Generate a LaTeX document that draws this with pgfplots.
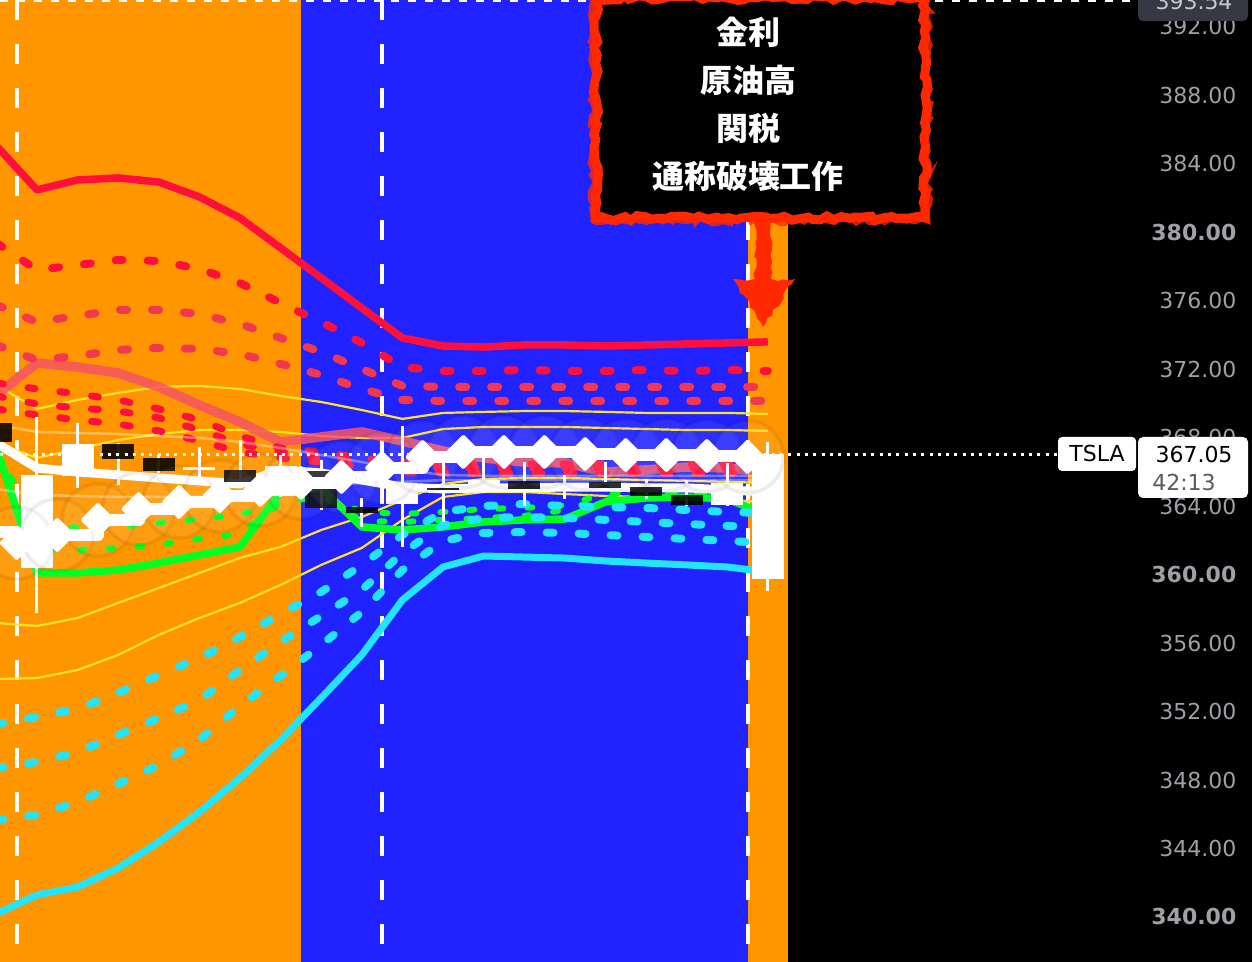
\documentclass[border=0pt]{standalone}
\usepackage{fontspec}
\setmainfont{DejaVu Sans}
\newfontfamily\cjk{Noto Sans CJK JP}
\usepackage{pgfplots}
\pgfplotsset{compat=1.18}
\usepackage{pgfplotstable}
\usetikzlibrary{decorations.pathmorphing}

\definecolor{bgorange}{RGB}{255,150,0}
\definecolor{bgblue}{RGB}{32,34,255}
\definecolor{rred}{RGB}{255,15,60}
\definecolor{rpink}{RGB}{242,56,80}
\definecolor{salmon}{RGB}{245,85,100}
\definecolor{ccyan}{RGB}{34,228,252}
\definecolor{ggreen}{RGB}{0,255,34}
\definecolor{yel}{RGB}{255,225,40}
\definecolor{labgray}{RGB}{160,160,166}
\definecolor{annored}{RGB}{255,40,0}
\definecolor{boxgray}{RGB}{54,57,68}
\definecolor{boxtext}{RGB}{200,200,205}
\definecolor{timegray}{RGB}{90,90,90}

\pgfplotstableread{
k R0 R1 R2 R3 R4 R5 R6 S Y1 Y2 Y3 Y4 G0 G1 G2 C0 C1 C2 C3 W2 F1 F2
0 385.05 379.38 375.76 373.42 371.20 370.44 369.68 370.50 371.08 367.69 357.18 353.90 367.46 367.17 366.99 340.18 351.28 348.70 345.67 367.69 368.75 365.00
1 382.48 377.80 374.76 372.54 370.85 369.97 369.33 372.37 369.68 366.82 357.00 353.96 360.10 363.08 361.50 341.29 351.69 349.06 345.96 366.23 368.34 364.66
2 383.06 378.09 375.12 372.78 370.56 369.74 369.04 372.13 370.21 367.34 357.47 354.43 360.10 362.73 361.44 341.75 352.15 349.64 346.72 366.00 368.28 364.60
3 383.18 378.39 375.47 373.13 370.21 369.56 368.80 371.78 370.62 367.87 358.35 355.31 360.27 362.79 361.56 342.86 353.09 350.63 347.77 365.83 368.22 364.54
4 382.94 378.33 375.47 373.25 369.68 369.16 368.40 370.97 370.97 368.22 359.22 356.48 360.68 363.02 361.74 344.38 354.14 351.63 348.88 365.65 368.10 364.54
5 382.07 377.86 375.23 373.19 369.04 368.45 367.81 369.91 371.03 368.45 360.10 357.47 361.15 363.25 362.09 346.13 355.13 352.68 350.34 365.48 367.99 364.54
6 380.84 377.04 374.65 372.89 368.10 367.64 367.17 368.92 370.85 368.45 360.98 358.35 361.62 363.49 362.38 348.12 356.36 354.43 352.33 365.30 367.75 364.54
7 379.09 375.87 373.83 372.31 367.40 367.17 366.82 367.75 370.44 368.34 361.62 359.40 364.83 364.36 364.19 350.34 357.70 356.07 354.08 366.12 367.40 364.95
8 377.34 374.76 373.01 371.67 367.17 366.88 366.58 368.05 370.09 368.10 362.61 360.57 365.07 364.77 364.60 352.80 358.99 357.59 355.89 365.94 366.99 365.24
9 375.58 373.54 372.02 370.85 366.82 366.53 366.29 368.34 369.62 367.99 363.37 361.56 362.79 363.66 363.14 355.31 360.57 359.11 357.82 365.53 366.58 365.36
10 373.83 372.13 371.03 370.21 366.58 366.29 366.00 367.81 369.10 367.99 364.36 363.20 362.61 363.55 363.08 358.52 362.32 361.27 360.27 365.12 366.12 365.42
11 373.36 371.90 370.97 370.15 366.47 366.23 365.94 367.23 369.45 368.51 365.30 364.54 362.79 363.66 363.20 360.45 363.66 362.90 361.97 365.01 365.83 365.53
12 373.30 371.90 370.97 370.15 366.47 366.23 365.94 366.82 369.51 368.63 365.59 364.83 363.08 363.84 363.31 361.09 364.01 363.31 362.44 365.07 365.77 365.53
13 373.42 371.96 370.97 370.15 366.47 366.23 365.94 366.58 369.56 368.63 365.65 364.83 363.20 363.90 363.43 361.03 364.13 363.37 362.49 365.07 365.77 365.53
14 373.42 371.90 370.97 370.15 366.47 366.23 365.94 366.53 369.56 368.63 365.65 364.71 363.25 364.07 363.78 360.97 364.01 363.31 362.44 365.12 365.77 365.53
15 373.36 371.90 370.97 370.15 366.47 366.23 365.94 366.00 369.51 368.57 365.59 364.60 364.25 364.71 364.48 360.80 363.95 363.20 362.32 365.12 365.77 365.53
16 373.42 371.96 370.97 370.15 366.47 366.23 365.94 366.12 369.45 368.51 365.53 364.54 364.48 364.89 364.66 360.68 363.90 363.08 362.20 365.07 365.77 365.53
17 373.48 371.90 370.97 370.15 366.47 366.23 365.94 366.29 369.45 368.45 365.48 364.48 364.54 364.89 364.66 360.57 363.78 362.96 362.09 365.07 365.77 365.53
18 373.54 371.96 370.97 370.15 366.47 366.23 365.94 366.23 369.45 368.45 365.42 364.36 364.42 364.83 364.54 360.45 363.66 362.85 361.97 364.95 365.77 365.53
19 373.60 371.90 370.97 370.15 366.47 366.23 365.94 366.00 369.39 368.40 365.36 364.25 363.49 364.07 363.78 360.16 363.60 362.79 361.85 364.83 365.77 365.53
}\lines

% up candles: k open high low close
\pgfplotstableread{
k o h l c
1 360.39 369.21 357.76 365.83
2 365.77 368.86 365.07 367.64
5 366.10 367.46 365.71 366.27
7 364.83 366.99 364.54 366.35
10 364.13 368.69 361.62 365.24
12 364.95 367.11 364.77 365.53
14 364.95 365.83 364.42 365.36
18 364.07 366.53 364.01 365.36
19 359.75 367.75 359.05 367.05
}\upc

% down candles
\pgfplotstableread{
k o h l c
0 368.86 368.95 367.60 367.75
3 367.64 367.69 365.24 366.76
4 366.82 366.99 365.94 366.06
6 366.12 367.87 365.18 365.42
8 366.06 366.70 363.78 363.90
9 363.95 364.48 362.79 363.60
11 365.07 366.58 363.08 364.95
13 365.48 366.58 364.01 365.01
15 365.42 366.58 364.95 365.07
16 365.12 365.59 364.42 364.60
17 364.66 365.53 364.01 364.07
}\dnc

\pgfplotstableread{
k v
-0.5 362.49
0.5 361.85
1.5 362.32
2.5 363.20
3.5 363.84
4.5 364.25
5.5 364.60
6.5 364.95
7.5 365.36
8.5 365.71
9.5 366.23
10.5 366.88
11.5 367.17
12.5 367.17
13.5 367.17
14.5 367.05
15.5 366.99
16.5 366.99
17.5 366.94
18.5 366.88
}\diam

\begin{document}
\begin{tikzpicture}
\useasboundingbox (0,0) rectangle (125.2mm,96.2mm);
\clip (0,0) rectangle (125.2mm,96.2mm);
\begin{axis}[
  at={(0,0)}, anchor=south west,
  scale only axis, width=125.2mm, height=96.2mm,
  xmin=0.0887, xmax=30.926, ymin=337.37, ymax=393.578,
  axis background/.style={fill=black},
  axis line style={draw=none},
  xtick=\empty,
  ytick={340,344,348,352,356,360,364,368,372,376,380,384,388,392},
  yticklabels={\textbf{340.00},344.00,348.00,352.00,356.00,\textbf{360.00},364.00,368.00,372.00,376.00,\textbf{380.00},384.00,388.00,392.00},
  yticklabel pos=right,
  major tick length=0pt,
  tick style={draw=none},
  yticklabel style={anchor=east, inner sep=0pt, xshift=-1.5mm, font=\fontsize{6.26pt}{7pt}\selectfont, text=labgray},
  every axis plot/.append style={line join=round},
  rdash/.style={line width=0.8mm, line cap=round, dash pattern=on 0.7mm off 2.5mm},
  gdash/.style={line width=0.6mm, line cap=round, dash pattern=on 0.5mm off 2.4mm},
  candle/.style={only marks, mark=*, mark size=0pt, mark options={draw=none, fill=none},
    error bars/.cd, y dir=plus, y explicit, error mark=none},
]
% background sessions
\addplot[draw=none, fill=bgorange] coordinates {(0,330) (7.5,330) (7.5,400) (0,400)} --cycle;
\addplot[draw=none, fill=bgblue] coordinates {(7.5,330) (18.5,330) (18.5,400) (7.5,400)} --cycle;
\addplot[draw=none, fill=bgorange] coordinates {(18.5,330) (19.5,330) (19.5,400) (18.5,400)} --cycle;
% dashed verticals
\addplot[white, line width=0.4mm, dash pattern=on 2mm off 2.4mm] coordinates {(0.5,393.578) (0.5,337.37)};
\addplot[white, line width=0.4mm, dash pattern=on 2mm off 2.4mm] coordinates {(9.5,393.578) (9.5,337.37)};
\addplot[white, line width=0.4mm, dash pattern=on 2mm off 2.4mm] coordinates {(18.5,393.578) (18.5,337.37)};
% top price line
\addplot[white, line width=0.25mm, dash pattern=on 0.8mm off 0.9mm] coordinates {(0.0887,393.54) (28.2,393.54)};
% yellow thin
\addplot[yel, line width=0.22mm] table[x=k,y=Y1] {\lines};
\addplot[yel, line width=0.22mm] table[x=k,y=Y2] {\lines};
\addplot[yel, line width=0.22mm] table[x=k,y=Y3] {\lines};
\addplot[yel, line width=0.22mm] table[x=k,y=Y4] {\lines};
% salmon
\addplot[salmon, opacity=0.85, line width=0.95mm] table[x=k,y=S] {\lines};
% red
\addplot[rred, line width=0.75mm] table[x=k,y=R0] {\lines};
\addplot[rred, rdash] table[x=k,y=R1] {\lines};
\addplot[rpink, rdash] table[x=k,y=R2] {\lines};
\addplot[rpink, rdash] table[x=k,y=R3] {\lines};
\addplot[rred, rdash, line width=0.7mm] table[x=k,y=R4] {\lines};
\addplot[rred, rdash, line width=0.7mm] table[x=k,y=R5] {\lines};
\addplot[rred, rdash, line width=0.7mm] table[x=k,y=R6] {\lines};
% green
\addplot[ggreen, line width=0.75mm] table[x=k,y=G0] {\lines};
\addplot[ggreen, gdash] table[x=k,y=G1] {\lines};
\addplot[ggreen, gdash] table[x=k,y=G2] {\lines};
% cyan
\addplot[ccyan, line width=0.7mm] table[x=k,y=C0] {\lines};
\addplot[ccyan, rdash] table[x=k,y=C1] {\lines};
\addplot[ccyan, rdash] table[x=k,y=C2] {\lines};
\addplot[ccyan, rdash] table[x=k,y=C3] {\lines};
% faint
\addplot[white, opacity=0.35, line width=0.25mm] table[x=k,y=F1] {\lines};
\addplot[white, opacity=0.35, line width=0.25mm] table[x=k,y=F2] {\lines};
% glow
\begin{scope}[transparency group, opacity=0.26]
\addplot[only marks, mark=*, mark size=3.6mm, mark options={fill=white, draw=none}] table[x=k,y=v] {\diam};
\end{scope}
% white thick line
\addplot[white, line width=0.9mm] table[x=k,y=W2] {\lines};
% candles: wicks
\addplot[candle, error bar style={draw=white, line width=0.3mm, line cap=butt}]
  table[x=k, y=l, y error plus expr=\thisrow{h}-\thisrow{l}] {\upc};
\addplot[candle, error bar style={draw=white, line width=0.3mm, line cap=butt}]
  table[x=k, y=l, y error plus expr=\thisrow{h}-\thisrow{l}] {\dnc};
% bodies
\addplot[candle, error bar style={draw=white, line width=3.2mm, line cap=butt}]
  table[x=k, y=o, y error plus expr=\thisrow{c}-\thisrow{o}] {\upc};
\addplot[candle, error bar style={draw=black, opacity=0.87, line width=3.2mm, line cap=butt}]
  table[x=k, y=c, y error plus expr=\thisrow{o}-\thisrow{c}] {\dnc};
% dotted last price
\addplot[white, line width=0.3mm, dash pattern=on 0.3mm off 0.53mm] coordinates {(0.0887,367.05) (26.15,367.05)};
% diamonds step line
\addplot[const plot, white, line width=1.2mm, mark=square*, mark size=1.1mm,
  mark options={rotate=45, fill=white, draw=white, line width=0.3mm, line join=round}]
  table[x=k,y=v] {\diam};
\end{axis}

\begin{scope}[shift={(0,96.2mm)}, x=0.1mm, y=-0.1mm]
% annotation box
\fill[black] (596,-2) rectangle (925,218);
\draw[annored, line width=0.9mm, decorate, decoration={random steps, segment length=0.7mm, amplitude=0.25mm}]
  (596,-2) -- (925,-2) -- (925,218) -- (596,218) -- cycle;
\draw[annored, line width=0.5mm, opacity=0.8, decorate, decoration={random steps, segment length=0.5mm, amplitude=0.3mm}]
  (593,-5) -- (928,-5) -- (928,221) -- (593,221) -- cycle;
\node[text=white, font=\cjk\bfseries\fontsize{9.1pt}{11pt}\selectfont] at (748,32) {金利};
\node[text=white, font=\cjk\bfseries\fontsize{9.1pt}{11pt}\selectfont] at (748,80) {原油高};
\node[text=white, font=\cjk\bfseries\fontsize{9.1pt}{11pt}\selectfont] at (748,128) {関税};
\node[text=white, font=\cjk\bfseries\fontsize{9.1pt}{11pt}\selectfont] at (748,176) {通称破壊工作};
% arrow
\fill[annored, decorate, decoration={random steps, segment length=0.6mm, amplitude=0.2mm}]
  (755,218) -- (771,218) -- (771,279) -- (795,279) -- (763,327) -- (733,279) -- (755,279) -- cycle;
% price labels
\fill[boxgray, rounded corners=0.5mm] (1138,-15) rectangle (1248,21);
\node[text=boxtext, font=\fontsize{6.26pt}{7pt}\selectfont] at (1194,2) {393.54};
\fill[white, rounded corners=0.4mm] (1058,437) rectangle (1136,471);
\node[text=black, font=\fontsize{6.26pt}{7pt}\selectfont] at (1097,454) {TSLA};
\fill[white, rounded corners=0.5mm] (1138,437) rectangle (1248,498);
\node[text=black, font=\fontsize{6.26pt}{7pt}\selectfont] at (1194,455) {367.05};
\node[text=timegray, font=\fontsize{6.26pt}{7pt}\selectfont] at (1184,483) {42:13};
\end{scope}
\end{tikzpicture}
\end{document}
